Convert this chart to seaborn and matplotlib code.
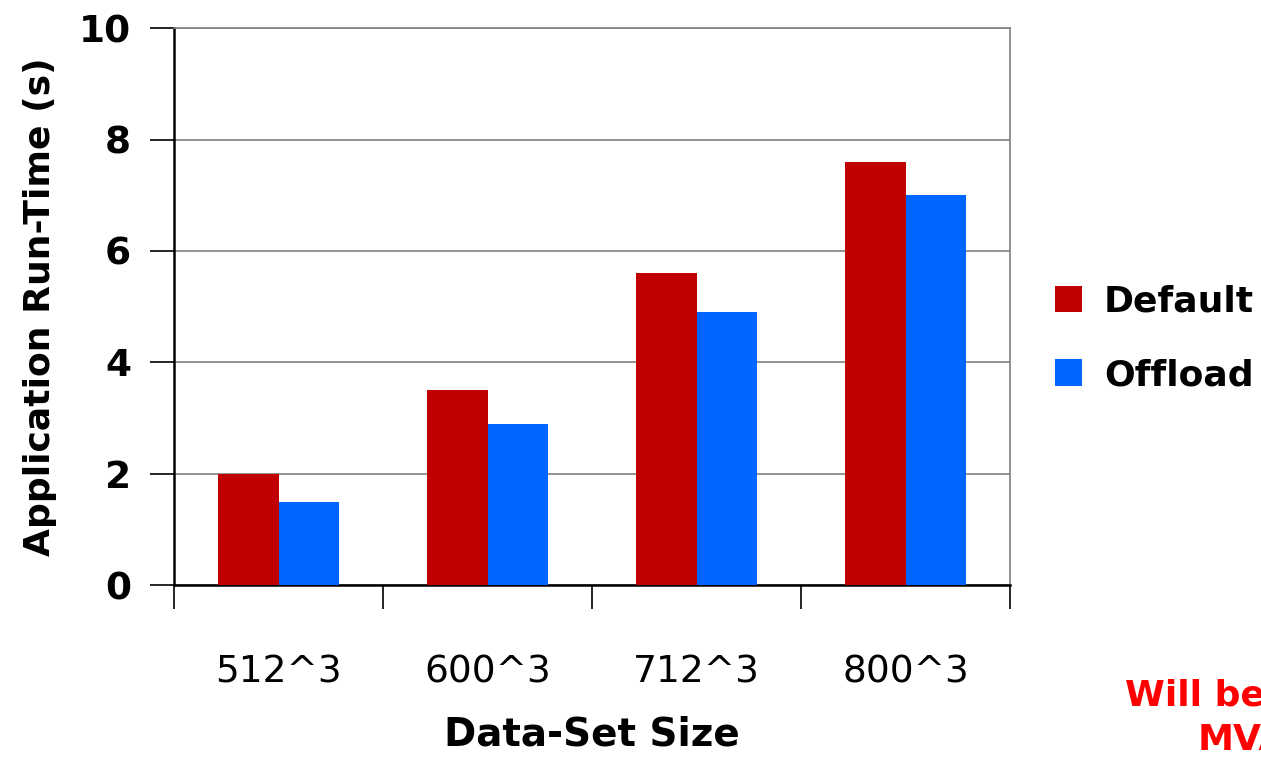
import matplotlib
matplotlib.use("Agg")
import matplotlib.pyplot as plt
import seaborn as sns
import pandas as pd

categories = ["512^3", "600^3", "712^3", "800^3"]
default_times = [2.0, 3.5, 5.6, 7.6]
offload_times = [1.5, 2.9, 4.9, 7.0]
series_names = ["Default", "Offload"]
y_ticks = [0, 2, 4, 6, 8, 10]

df = pd.DataFrame({
    "size": categories * 2,
    "time": default_times + offload_times,
    "mode": [series_names[0]] * len(categories) + [series_names[1]] * len(categories),
})

sns.set_theme(style="white")
plt.rcParams["font.family"] = ["DejaVu Sans"]
plt.rcParams["text.color"] = "black"
plt.rcParams["axes.labelcolor"] = "black"
plt.rcParams["xtick.color"] = "black"
plt.rcParams["ytick.color"] = "black"

fig = plt.figure(figsize=(12.61, 7.59), dpi=100)
ax = fig.add_axes([0.138, 0.229, 0.663, 0.734])

palette = {"Default": "#C00000", "Offload": "#0066FF"}
sns.barplot(data=df, x="size", y="time", hue="mode", order=categories,
            hue_order=series_names, palette=palette, width=0.58, gap=0,
            saturation=1, edgecolor="none", linewidth=0, ax=ax, zorder=3)

ax.set_ylim(0, 10)
ax.set_xlim(-0.5, len(categories) - 0.5)
ax.set_yticks(y_ticks)
ax.set_yticklabels([str(t) for t in y_ticks], fontsize=27, fontweight="bold")
ax.yaxis.grid(True, color="#808080", linewidth=1.2, zorder=0)
ax.tick_params(axis="y", length=17, width=1.2, color="black", pad=14, left=True)

# category separators as ticks below the axis
ax.set_xticks([i - 0.5 for i in range(len(categories) + 1)], minor=False)
ax.set_xticklabels([""] * (len(categories) + 1))
ax.set_xticks(range(len(categories)), minor=True)
ax.set_xticklabels(categories, minor=True, fontsize=27)
ax.tick_params(axis="x", which="major", length=17, width=1.2, color="black", bottom=True, direction="out")
ax.tick_params(axis="x", which="minor", length=0, pad=50)

for side in ["top", "right"]:
    ax.spines[side].set_color("#808080")
    ax.spines[side].set_linewidth(1.2)
for side in ["left", "bottom"]:
    ax.spines[side].set_color("black")
    ax.spines[side].set_linewidth(1.8)

ax.set_xlabel("Data-Set Size", fontsize=28, fontweight="bold", labelpad=18)
ax.set_ylabel("Application Run-Time (s)", fontsize=26, fontweight="bold", labelpad=16)

leg = ax.legend(loc="center left", bbox_to_anchor=(1.015, 0.443), frameon=False,
                prop={"size": 26, "weight": "bold"}, handlelength=0.75, handleheight=0.75,
                handletextpad=0.6, labelspacing=1.1)

fig.text(1125 / 1261, 1 - 695 / 759, "Will be available in", color="#FF0000",
         fontsize=26, fontweight="bold", ha="left", va="center")
fig.text(1198 / 1261, 1 - 740 / 759, "MVAPICH2", color="#FF0000",
         fontsize=26, fontweight="bold", ha="left", va="center")

fig.savefig("out.png", dpi=100)
